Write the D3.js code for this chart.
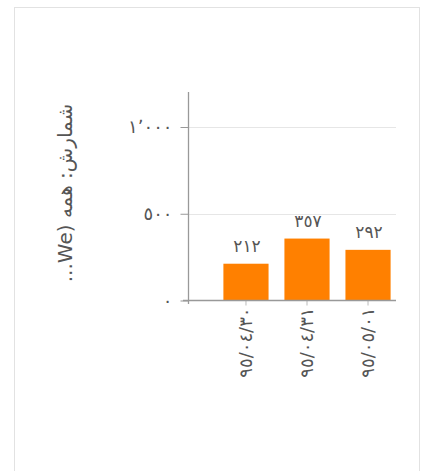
<!DOCTYPE html>
<html><head><meta charset="utf-8">
<script src="https://cdn.jsdelivr.net/npm/d3@7"></script>
<style>
html,body{margin:0;padding:0;background:#fff;}
text{font-family:"DejaVu Sans",sans-serif;}
</style></head>
<body>
<svg id="c" width="422" height="471"></svg>
<script>
const categories = ["٩٥/٠٤/٣٠", "٩٥/٠٤/٣١", "٩٥/٠٥/٠١"];
const values = [212, 357, 292];
const valueLabels = ["٢١٢", "٣٥٧", "٢٩٢"];
const yTicks = [0, 500, 1000];
const yTickLabels = ["٠", "٥٠٠", "١٬٠٠٠"];
const yTitle = "شمارش: همه (We...";

const svg = d3.select("#c");
svg.append("rect").attr("x",14.5).attr("y",7.5).attr("width",405).attr("height",470)
  .attr("fill","none").attr("stroke","#e2e2e2");

const y = d3.scaleLinear().domain([0,1200]).range([300.5, 92.3]);
const x = d3.scaleBand().domain(categories).range([188, 426]).paddingInner(0.26).paddingOuter(0.58);

// gridlines
svg.append("g").selectAll("line").data(yTicks.filter(d=>d>0)).join("line")
  .attr("x1",188).attr("x2",396).attr("y1",d=>Math.round(y(d))+0.5).attr("y2",d=>Math.round(y(d))+0.5)
  .attr("stroke","#e6e6e6");

// y axis
const yAxis = d3.axisLeft(y).tickValues(yTicks).tickSize(8).tickPadding(8)
  .tickFormat((d,i)=>yTickLabels[i]);
const gy = svg.append("g").attr("transform","translate(188.5,0)").call(yAxis);
gy.select(".domain").remove();
gy.selectAll(".tick line").attr("stroke","#999");
gy.selectAll(".tick text").attr("fill","#555").style("font-size","18px").style("letter-spacing","6px");
svg.append("line").attr("x1",188.5).attr("x2",188.5).attr("y1",92).attr("y2",304).attr("stroke","#999").attr("stroke-width",1.3);

// bars
svg.append("g").selectAll("rect").data(values).join("rect")
  .attr("x",(d,i)=>x(categories[i])).attr("width",x.bandwidth())
  .attr("y",d=>y(d)).attr("height",d=>y(0)-y(d)).attr("fill","#ff8000");

// value labels
svg.append("g").selectAll("text").data(values).join("text")
  .attr("x",(d,i)=>x(categories[i])+x.bandwidth()/2 + 1).attr("y",d=>y(d)-12)
  .attr("text-anchor","middle").attr("fill","#555").style("font-size","17px").style("letter-spacing","2px")
  .text((d,i)=>valueLabels[i]);

// x axis
const xAxis = d3.axisBottom(x).tickSize(5).tickPadding(6);
const gx = svg.append("g").attr("transform","translate(0,300.5)").call(xAxis);
gx.select(".domain").remove();
gx.selectAll(".tick line").attr("stroke","#bbb");
gx.selectAll(".tick text").attr("fill","#555").style("font-size","18px").style("letter-spacing","4px")
  .attr("transform","rotate(-90)").attr("text-anchor","end").attr("dy","0.35em")
  .attr("x",-7).attr("y",0);
svg.append("line").attr("x1",183).attr("x2",396).attr("y1",300.5).attr("y2",300.5).attr("stroke","#999").attr("stroke-width",1.3);

// y title
svg.append("text").attr("transform","translate(65,193) rotate(-90)")
  .attr("text-anchor","middle").attr("dy","0.35em").attr("fill","#555")
  .style("font-size","20px").attr("direction","rtl").text(yTitle);
</script>
</body></html>
